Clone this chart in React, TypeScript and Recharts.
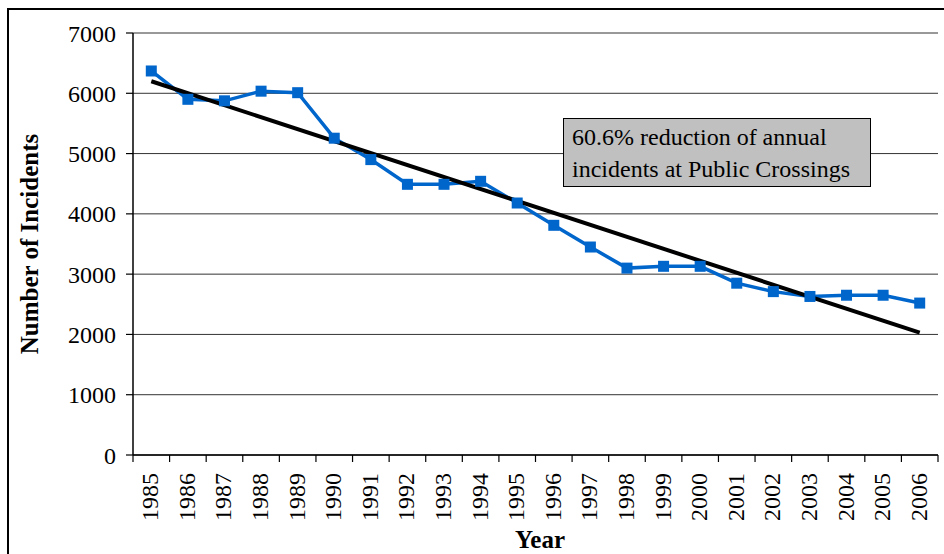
import React from 'react';
import { LineChart, Line, XAxis, YAxis, CartesianGrid, ReferenceLine } from 'recharts';

const years = ['1985', '1986', '1987', '1988', '1989', '1990', '1991', '1992', '1993', '1994', '1995',
  '1996', '1997', '1998', '1999', '2000', '2001', '2002', '2003', '2004', '2005', '2006'];
const incidents = [6370, 5900, 5875, 6035, 6010, 5255, 4900, 4490, 4490, 4540, 4180,
  3810, 3450, 3100, 3130, 3130, 2850, 2710, 2630, 2650, 2650, 2520];
// linear trend at the first and last year
const trendStart = 6200;
const trendEnd = 2030;
const yTicks = [0, 1000, 2000, 3000, 4000, 5000, 6000, 7000];
const minorTicks = Array.from({ length: 36 }, (_, i) => i * 200);

const W = 944;
const H = 554;
const LEFT = 133;
const RIGHT = 6;
const TOP = 33;
const BOTTOM_H = 99;
const PLOT_BOTTOM = H - BOTTOM_H;
const BAND = (W - LEFT - RIGHT) / years.length;
const FONT = '"Liberation Serif", "Times New Roman", serif';

const data = years.map((year, i) => ({ year, incidents: incidents[i] }));

const SquareDot = (props: any) => {
  const { cx, cy } = props;
  if (cx == null || cy == null) return null;
  return <rect x={cx - 5.5} y={cy - 5.5} width={11} height={11} fill="#0066cc" />;
};

const YearTick = (props: any) => {
  const { x, payload, index } = props;
  const half = BAND / 2;
  return (
    <g>
      <line x1={x - half} x2={x - half} y1={PLOT_BOTTOM} y2={PLOT_BOTTOM + 7} stroke="#000" strokeWidth={1.2} />
      {index === years.length - 1 && (
        <line x1={x + half} x2={x + half} y1={PLOT_BOTTOM} y2={PLOT_BOTTOM + 7} stroke="#000" strokeWidth={1.2} />
      )}
      <text
        transform={`translate(${x + 7},${PLOT_BOTTOM + 18}) rotate(-90)`}
        textAnchor="end"
        fontSize={24}
        fontFamily={FONT}
        fill="#000"
      >
        {payload.value}
      </text>
    </g>
  );
};

export default function App() {
  return (
    <div style={{ position: 'absolute', left: 0, top: 0, width: W, height: H, background: '#fff', fontFamily: FONT }}>
      <div
        style={{
          position: 'absolute', left: 7, top: 8, width: W - 7, height: H - 8,
          borderTop: '2px solid #000', borderLeft: '2px solid #000', boxSizing: 'border-box',
        }}
      />
      <LineChart width={W} height={H} data={data} margin={{ top: TOP, right: RIGHT, bottom: 0, left: 0 }}>
        <CartesianGrid vertical={false} stroke="#333" strokeWidth={1} />
        <XAxis
          dataKey="year"
          scale="band"
          height={BOTTOM_H}
          interval={0}
          tickLine={false}
          tickSize={7}
          tickMargin={5}
          axisLine={{ stroke: '#000', strokeWidth: 1.5 }}
          tick={<YearTick />}
        />
        <YAxis
          width={LEFT}
          domain={[0, 7000]}
          ticks={yTicks}
          interval={0}
          tickSize={7}
          tickMargin={10}
          axisLine={{ stroke: '#000', strokeWidth: 1.5 }}
          tickLine={{ stroke: '#000', strokeWidth: 1.2 }}
          tick={{ fontSize: 24, fill: '#000', fontFamily: FONT }}
        />
        <YAxis
          yAxisId="minor"
          mirror
          width={0}
          domain={[0, 7000]}
          ticks={minorTicks}
          interval={0}
          tickSize={6}
          axisLine={false}
          tickLine={{ stroke: '#000', strokeWidth: 1 }}
          tick={() => <g />}
        />
        <YAxis
          yAxisId="right"
          orientation="right"
          mirror
          width={0}
          domain={[0, 7000]}
          tick={false}
          tickLine={false}
          axisLine={{ stroke: '#000', strokeWidth: 1.5 }}
        />
        <Line
          dataKey="incidents"
          stroke="#0066cc"
          strokeWidth={3.5}
          dot={<SquareDot />}
          activeDot={false}
          isAnimationActive={false}
        />
        <ReferenceLine
          segment={[{ x: years[0], y: trendStart }, { x: years[years.length - 1], y: trendEnd }]}
          stroke="#000"
          strokeWidth={4}
        />
      </LineChart>
      <div
        style={{
          position: 'absolute', left: 30, top: 244, transform: 'translate(-50%, -50%) rotate(-90deg)',
          fontWeight: 'bold', fontSize: 25, whiteSpace: 'nowrap', color: '#000',
        }}
      >
        Number of Incidents
      </div>
      <div
        style={{
          position: 'absolute', left: 540, top: 540, transform: 'translate(-50%, -50%)',
          fontWeight: 'bold', fontSize: 25, color: '#000',
        }}
      >
        Year
      </div>
      <div
        style={{
          position: 'absolute', left: 563, top: 118, width: 308, height: 69, boxSizing: 'border-box',
          background: '#c0c0c0', border: '1.5px solid #000', padding: '2px 0 0 8px',
          fontSize: 24, lineHeight: '32px', color: '#000', whiteSpace: 'nowrap',
        }}
      >
        60.6% reduction of annual
        <br />
        incidents at Public Crossings
      </div>
    </div>
  );
}
